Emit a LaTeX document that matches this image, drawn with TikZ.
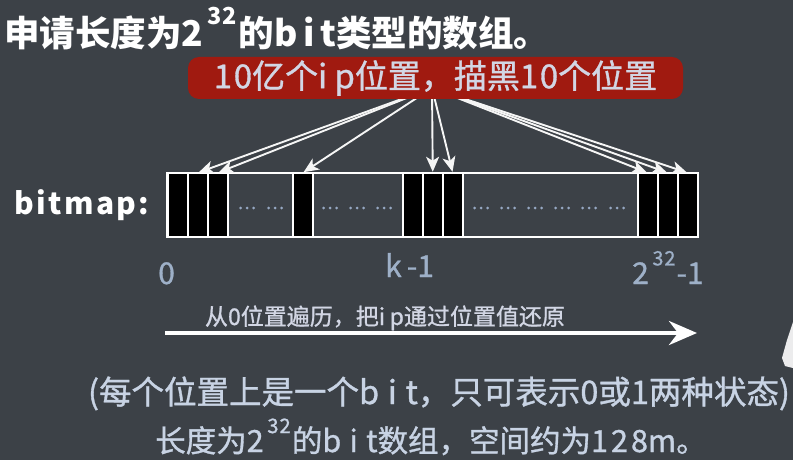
\documentclass[tikz,border=0pt]{standalone}
\usepackage{fontspec}
\usepackage{graphicx}
\setmainfont{Noto Sans CJK SC}
\newfontfamily\bodyf{Noto Sans CJK SC}[FakeBold=1]
\usetikzlibrary{arrows.meta}
\definecolor{bg}{RGB}{60,65,71}
\definecolor{boxred}{RGB}{160,26,16}
\definecolor{boxtxt}{RGB}{210,214,228}
\definecolor{labc}{RGB}{158,176,200}
\definecolor{dotc}{RGB}{150,168,195}
\definecolor{txtc}{RGB}{200,211,228}
\newcommand\lat[2][27]{{\addfontfeatures{LetterSpace=#1}#2}}
\newcommand\supx[2][5]{\hspace{0.12em}\raisebox{0.62em}{\scalebox{0.66}{\lat[#1]{#2}}}\hspace{0.04em}}
\begin{document}
\begin{tikzpicture}[x=1pt,y=-1pt,
  cell/.style={draw=white,fill=black,line width=1.5pt,minimum width=20pt,minimum height=63pt,inner sep=0pt,anchor=west},
  lab/.style={text=labc,font=\bodyf\fontsize{30}{30}\selectfont,inner sep=0pt,anchor=base west},
  arr/.style={draw=white!92!gray,line width=1.9pt,-{Stealth[length=15pt,width=13pt,inset=4pt]},shorten >=1pt},
  body/.style={text=txtc,inner sep=0pt,anchor=base}]
\fill[bg] (0,0) rectangle (793,460);
\useasboundingbox (0,0) rectangle (793,460);
% title
\node[anchor=base west,text=white,inner sep=0pt,font=\fontsize{35.5}{36}\selectfont\bfseries] (title) at (4,47) {申请长度为\lat[4]{2}\supx{32}的\lat[16]{bit}类型的数组。};
% bitmap label
\node[anchor=base west,text=white,inner sep=0pt,font=\fontsize{30}{30}\selectfont\bfseries\addfontfeatures{LetterSpace=8}] (bmlabel) at (14,214) {bitmap:};
% bitmap
\node[draw=white,line width=2pt,minimum width=531pt,minimum height=64pt,inner sep=0pt] (bitmap) at (432,205) {};
\foreach \n/\x in {c1/167,c2/187,c3/207,c4/292,c5/402,c6/422,c7/442,c8/637,c9/657,c10/677}
  \node[cell] (\n) at (\x,205) {};
\foreach \gx in {247,275,330,357,384,481,508,535,562,589,617}
  \foreach \k in {-1,0,1}
    \fill[dotc] (\gx+\k*6.5,208) circle (1.5);
% arrows
\coordinate (src) at (432,88);
\foreach \n in {c2,c3,c4,c6,c7,c8,c9,c10}
  \draw[arr] (src) -- (\n.north);
% banner
\node[fill=boxred,rounded corners=11pt,minimum width=495pt,minimum height=42pt,inner sep=0pt,text=boxtxt,font=\bodyf\fontsize{33}{33}\selectfont] (banner) at (435.5,78) {\lat[5]{10}亿个\lat[22]{ip}位置，描黑\lat[5]{10}个位置};
% index labels
\node[lab] (l0) at (158,284) {\lat[5]{0}};
\node[lab] (lk) at (385,277) {\lat[22]{k-}\lat[5]{1}};
\node[lab] (ln) at (632,284) {\lat[5]{2}\supx{32}\lat[22]{-}\lat[5]{1}};
% traverse arrow
\node[body,text=boxtxt,font=\bodyf\fontsize{23}{24}\selectfont] (trav) at (385,325) {从\lat[5]{0}位置遍历，把\lat[20]{ip}通过位置值还原};
\coordinate (as) at (165,333);
\coordinate (ae) at (697,333);
\draw[white,line width=4pt,-{Stealth[length=28pt,width=24pt,inset=9pt]}] (as) -- (ae);
% bottom lines
\node[body,font=\bodyf\fontsize{32.5}{33}\selectfont] (line3) at (439,404) {\lat{(}每个位置上是一个\lat{bit}，只可表示\lat[10]{0}或\lat[10]{1}两种状态\lat{)}};
\node[body,font=\bodyf\fontsize{30.5}{32}\selectfont] (line4) at (431,452) {长度为\lat[5]{2}\supx{32}的\lat{bit}数组，空间约为\lat[10]{128}\lat{m}。};
% partial shape at right edge
\fill[white!90!bg] (793,322) -- (787,340) -- (782,358) -- (785,366) -- (793,368) -- cycle;
\end{tikzpicture}
\end{document}
